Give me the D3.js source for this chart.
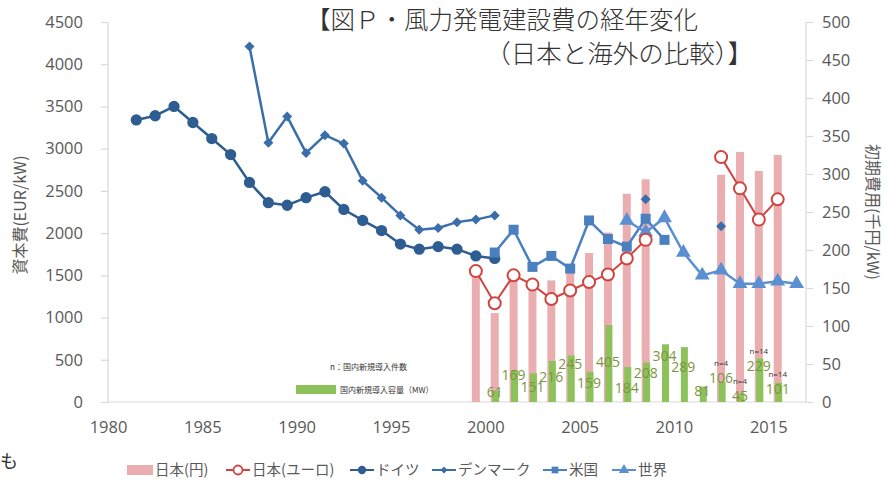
<!DOCTYPE html>
<html>
<head>
<meta charset="utf-8">
<script src="https://cdn.jsdelivr.net/npm/d3@7"></script>
<style>
  body { margin: 0; background: #fff; }
  text { font-family: "Noto Sans CJK JP", "Noto Sans", sans-serif; }
</style>
</head>
<body>
<div id="chart"></div>
<script>
// ---- data ----
const germanyYears = [1981, 1982, 1983, 1984, 1985, 1986, 1987, 1988, 1989, 1990, 1991, 1992, 1993, 1994, 1995, 1996, 1997, 1998, 1999, 2000];
const germanyEur = [3340, 3390, 3500, 3310, 3120, 2930, 2600, 2360, 2330, 2420, 2490, 2280, 2150, 2030, 1870, 1810, 1840, 1810, 1730, 1700];

const denmarkYears = [1987, 1988, 1989, 1990, 1991, 1992, 1993, 1994, 1995, 1996, 1997, 1998, 1999, 2000, 2008, 2012];
const denmarkEur = [4210, 3070, 3380, 2950, 3160, 3060, 2620, 2420, 2210, 2040, 2060, 2130, 2160, 2210, 2400, 2080];

const usaYears = [2000, 2001, 2002, 2003, 2004, 2005, 2006, 2007, 2008, 2009];
const usaEur = [1770, 2040, 1600, 1730, 1580, 2150, 1930, 1840, 2170, 1920];

const worldYears = [2007, 2008, 2009, 2010, 2011, 2012, 2013, 2014, 2015, 2016];
const worldEur = [2150, 2010, 2180, 1770, 1500, 1560, 1400, 1400, 1430, 1400];

const japanYears = [1999, 2000, 2001, 2002, 2003, 2004, 2005, 2006, 2007, 2008, 2012, 2013, 2014, 2015];
const japanYen = [180, 117, 168, 152, 160, 180, 196, 223, 274, 293, 299, 329, 304, 325];
const japanEur = [1550, 1170, 1500, 1390, 1220, 1320, 1420, 1510, 1700, 1920, 2900, 2530, 2160, 2400];

const capYears = [2000, 2001, 2002, 2003, 2004, 2005, 2006, 2007, 2008, 2009, 2010, 2011, 2012, 2013, 2014, 2015];
const capMW = [61, 169, 151, 216, 245, 159, 405, 184, 208, 304, 289, 81, 106, 45, 229, 101];
const capCount = [null, null, null, null, null, null, null, null, null, null, null, null, 4, 4, 14, 14];

const xTicks = [1980, 1985, 1990, 1995, 2000, 2005, 2010, 2015];
const leftTicks = [0, 500, 1000, 1500, 2000, 2500, 3000, 3500, 4000, 4500];
const rightTicks = [0, 50, 100, 150, 200, 250, 300, 350, 400, 450, 500];

// label nudges (px) so the capacity numbers sit like in the original
const capLabelDy = [2, 5, 14, 16, 9, 11, 37, 21, 11, 12, 20, 4, -4, 3, 8, 6];

const width = 886, height = 482;
const plotL = 108, plotR = 806, plotT = 22, plotB = 402;

const svg = d3.select("#chart").append("svg")
  .attr("width", width)
  .attr("height", height);

const x = d3.scaleLinear().domain([1980, 2017]).range([plotL, plotR]);
const yL = d3.scaleLinear().domain([0, 4500]).range([plotB, plotT]);
const yR = d3.scaleLinear().domain([0, 500]).range([plotB, plotT]);
const yCap = d3.scaleLinear().domain([0, 2000]).range([plotB, plotT]);

const grey = "#595959";
const axisGrey = "#d9d9d9";

// ---- axes ----
const leftAxis = svg.append("g")
  .attr("transform", "translate(" + plotL + ",0)")
  .call(d3.axisLeft(yL).tickValues(leftTicks).tickFormat(d3.format("d")).tickSize(7).tickPadding(18));
const rightAxis = svg.append("g")
  .attr("transform", "translate(" + plotR + ",0)")
  .call(d3.axisRight(yR).tickValues(rightTicks).tickFormat(d3.format("d")).tickSize(7).tickPadding(9));
const bottomAxis = svg.append("g")
  .attr("transform", "translate(0," + plotB + ")")
  .call(d3.axisBottom(x).tickValues(xTicks).tickFormat(d3.format("d")).tickSize(0).tickPadding(19));

[leftAxis, rightAxis, bottomAxis].forEach(function(g) {
  g.select(".domain").attr("stroke", axisGrey).attr("stroke-width", 1.2);
  g.selectAll(".tick line").attr("stroke", axisGrey).attr("stroke-width", 1.2);
  g.selectAll(".tick text")
    .attr("fill", grey)
    .style("font-size", "16.5px")
    .style("font-family", "'Open Sans', 'Noto Sans', sans-serif");
});
bottomAxis.select(".domain").attr("d", "M" + plotL + ",0H" + plotR);
leftAxis.select(".domain").attr("d", "M0," + plotB + "V" + plotT);
rightAxis.select(".domain").attr("d", "M0," + plotB + "V" + plotT);

svg.append("text")
  .attr("transform", "translate(26," + 215 + ")rotate(-90)")
  .attr("text-anchor", "middle")
  .attr("fill", grey)
  .style("font-size", "16px")
  .text("資本費(EUR/kW)");

svg.append("text")
  .attr("transform", "translate(867," + 212 + ")rotate(90)")
  .attr("text-anchor", "middle")
  .attr("fill", grey)
  .style("font-size", "16px")
  .text("初期費用(千円/kW)");

// ---- bars ----
svg.append("g").selectAll("rect")
  .data(japanYears.map((d, i) => ({ year: d, v: japanYen[i] })))
  .enter()
  .append("rect")
  .attr("x", d => x(d.year + 0.5) - 4)
  .attr("width", 8)
  .attr("y", d => yR(d.v))
  .attr("height", d => plotB - yR(d.v))
  .attr("fill", "#eaaeb1");

svg.append("g").selectAll("rect")
  .data(capYears.map((d, i) => ({ year: d, v: capMW[i] })))
  .enter()
  .append("rect")
  .attr("x", d => x(d.year + 0.5) - 2.5)
  .attr("width", 7)
  .attr("y", d => yCap(d.v))
  .attr("height", d => plotB - yCap(d.v))
  .attr("fill", "#8dc25a");

svg.append("g").selectAll("text")
  .data(capYears.map((d, i) => ({ year: d, v: capMW[i], dy: capLabelDy[i] })))
  .enter()
  .append("text")
  .attr("x", d => x(d.year + 0.5))
  .attr("y", d => yCap(d.v) + d.dy + 5)
  .attr("text-anchor", "middle")
  .attr("fill", "#7b9546")
  .style("font-size", "14px")
  .style("font-family", "'Open Sans', sans-serif")
  .text(d => d.v);

svg.append("g").selectAll("text")
  .data(capYears.map((d, i) => ({ year: d, v: capMW[i], n: capCount[i], dy: capLabelDy[i] })).filter(d => d.n != null))
  .enter()
  .append("text")
  .attr("x", d => x(d.year + 0.5))
  .attr("y", d => yCap(d.v) + d.dy - 12)
  .attr("text-anchor", "middle")
  .attr("fill", "#333")
  .style("font-size", "8px")
  .style("font-family", "'Open Sans', sans-serif")
  .text(d => "n=" + d.n);

// ---- lines ----
function series(years, vals) {
  return years.map((d, i) => ({ year: d, v: vals[i] }));
}
// break the line where years are not consecutive
function segments(pts) {
  const out = [];
  pts.forEach(function(p, i) {
    if (i === 0 || p.year - pts[i - 1].year > 1) out.push([]);
    out[out.length - 1].push(p);
  });
  return out;
}

const line = d3.line()
  .x(d => x(d.year + 0.5))
  .y(d => yL(d.v));

const symbols = {
  circle: d3.symbol().type(d3.symbolCircle).size(100),
  diamond: d3.symbol().type(d3.symbolSquare).size(50),
  square: d3.symbol().type(d3.symbolSquare).size(100),
  triangle: d3.symbol().type(d3.symbolTriangle).size(95)
};

function drawSeries(pts, color, sym, rotate) {
  const g = svg.append("g");
  segments(pts).forEach(function(seg) {
    if (seg.length < 2) return;
    g.append("path")
      .attr("d", line(seg))
      .attr("fill", "none")
      .attr("stroke", color)
      .attr("stroke-width", 2.5);
  });
  g.selectAll(".m")
    .data(pts)
    .enter()
    .append("path")
    .attr("d", symbols[sym])
    .attr("transform", d => "translate(" + x(d.year + 0.5) + "," + yL(d.v) + ")" + (rotate ? "rotate(45)" : ""))
    .attr("fill", color);
}

drawSeries(series(germanyYears, germanyEur), "#2e5d91", "circle", false);
drawSeries(series(denmarkYears, denmarkEur), "#3a6eaa", "diamond", true);
drawSeries(series(usaYears, usaEur), "#4a7fc0", "square", false);
drawSeries(series(worldYears, worldEur), "#5b8fd2", "triangle", false);

// Japan in EUR: open red circles
const jp = series(japanYears, japanEur);
const jg = svg.append("g");
segments(jp).forEach(function(seg) {
  jg.append("path")
    .attr("d", line(seg))
    .attr("fill", "none")
    .attr("stroke", "#d0453f")
    .attr("stroke-width", 2);
});
jg.selectAll("circle")
  .data(jp)
  .enter()
  .append("circle")
  .attr("cx", d => x(d.year + 0.5))
  .attr("cy", d => yL(d.v))
  .attr("r", 6)
  .attr("fill", "#fff")
  .attr("stroke", "#d0453f")
  .attr("stroke-width", 2);

// ---- inner legend ----
svg.append("text")
  .attr("x", 330)
  .attr("y", 370)
  .attr("fill", "#333")
  .style("font-size", "8px")
  .text("n：国内新規導入件数");
svg.append("rect")
  .attr("x", 296)
  .attr("y", 385)
  .attr("width", 40)
  .attr("height", 9)
  .attr("fill", "#8dc25a");
svg.append("text")
  .attr("x", 340)
  .attr("y", 393)
  .attr("fill", "#333")
  .style("font-size", "8px")
  .text("国内新規導入容量（MW）");

// ---- bottom legend ----
const ly = 470;
const legendItems = [
  { label: "日本(円)", kind: "bar", x: 127 },
  { label: "日本(ユーロ)", kind: "open", x: 226 },
  { label: "ドイツ", kind: "circle", x: 350, color: "#2e5d91" },
  { label: "デンマーク", kind: "diamond", x: 432, color: "#3a6eaa" },
  { label: "米国", kind: "square", x: 543, color: "#4a7fc0" },
  { label: "世界", kind: "triangle", x: 612, color: "#5b8fd2" }
];

legendItems.forEach(function(it) {
  let tx;
  if (it.kind === "bar") {
    svg.append("rect")
      .attr("x", it.x).attr("y", ly - 5).attr("width", 26).attr("height", 10)
      .attr("fill", "#eaaeb1");
    tx = it.x + 28;
  } else {
    const c = it.kind === "open" ? "#d0453f" : it.color;
    svg.append("line")
      .attr("x1", it.x).attr("x2", it.x + 24)
      .attr("y1", ly).attr("y2", ly)
      .attr("stroke", c).attr("stroke-width", 2);
    if (it.kind === "open") {
      svg.append("circle")
        .attr("cx", it.x + 12).attr("cy", ly).attr("r", 4.5)
        .attr("fill", "#fff").attr("stroke", c).attr("stroke-width", 1.8);
    } else {
      const size = { circle: 55, diamond: 24, square: 45, triangle: 45 }[it.kind];
      const type = { circle: d3.symbolCircle, diamond: d3.symbolSquare, square: d3.symbolSquare, triangle: d3.symbolTriangle }[it.kind];
      svg.append("path")
        .attr("d", d3.symbol().type(type).size(size))
        .attr("transform", "translate(" + (it.x + 12) + "," + ly + ")" + (it.kind === "diamond" ? "rotate(45)" : ""))
        .attr("fill", c);
    }
    tx = it.x + 26;
  }
  svg.append("text")
    .attr("x", tx)
    .attr("y", ly + 5)
    .attr("fill", grey)
    .style("font-size", "14.5px")
    .text(it.label);
});

// ---- title ----
svg.append("text")
  .attr("x", 306)
  .attr("y", 29)
  .attr("fill", "#333")
  .style("font-size", "24.5px")
  .style("font-weight", 300)
  .text("【図Ｐ・風力発電建設費の経年変化");
svg.append("text")
  .attr("x", 753)
  .attr("y", 63)
  .attr("text-anchor", "end")
  .attr("fill", "#333")
  .style("font-size", "25.5px")
  .style("font-weight", 300)
  .text("（日本と海外の比較）】");

// stray character from the page the figure was cut from
svg.append("text")
  .attr("x", 0)
  .attr("y", 468)
  .attr("fill", "#333")
  .style("font-size", "18px")
  .text("も");
</script>
</body>
</html>
